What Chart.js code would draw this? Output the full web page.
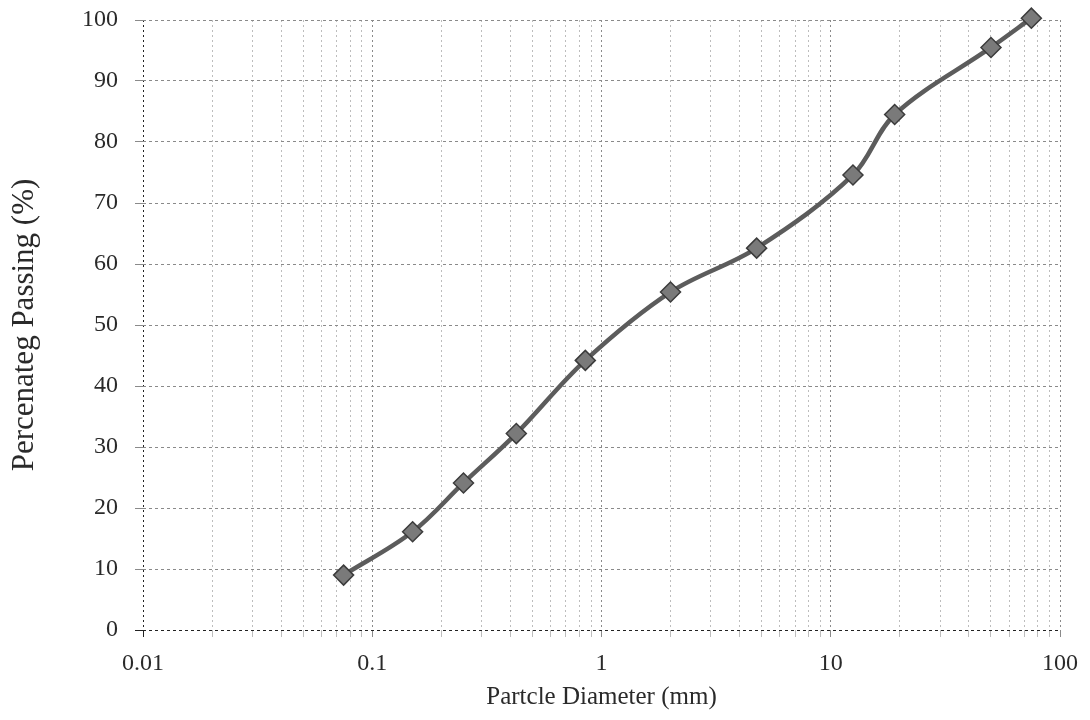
<!DOCTYPE html>
<html lang="en">
<head>
    <meta charset="UTF-8">
    <title>Particle size distribution</title>
    <script src="https://cdn.jsdelivr.net/npm/chart.js"></script>
    <style>
        * { margin: 0; padding: 0; box-sizing: border-box; }
        body { background: #fff; width: 1090px; height: 720px; overflow: hidden; }
        #wrap { width: 1090px; height: 720px; }
    </style>
</head>
<body>
    <div id="wrap"><canvas id="grading" width="1090" height="720"></canvas></div>

    <script>
        // sieve sizes (mm) and percentage passing
        const sieveSizes = [0.075, 0.15, 0.25, 0.425, 0.85, 2.0, 4.75, 12.5, 19, 50, 75];
        const percentPassing = [9, 16.1, 24.1, 32.2, 44.2, 55.4, 62.6, 74.6, 84.5, 95.5, 100.3];

        const xMajorTicks = [0.01, 0.1, 1, 10, 100];
        const yTicks = [0, 10, 20, 30, 40, 50, 60, 70, 80, 90, 100];

        const serif = "'Liberation Serif', 'DejaVu Serif', serif";

        // minor log grid: 2..9 in each decade
        const xAllTicks = [];
        xMajorTicks.forEach((d, i) => {
            xAllTicks.push({ value: d, major: true });
            if (i < xMajorTicks.length - 1) {
                for (let m = 2; m <= 9; m++) xAllTicks.push({ value: d * m, major: false });
            }
        });

        new Chart(document.getElementById('grading').getContext('2d'), {
            type: 'line',
            data: {
                datasets: [{
                    data: sieveSizes.map((s, i) => ({ x: s, y: percentPassing[i] })),
                    borderColor: '#5c5c5c',
                    borderWidth: 4.5,
                    tension: 0.35,
                    pointStyle: 'rectRot',
                    pointRadius: 10,
                    pointBackgroundColor: '#7a7a7a',
                    pointBorderColor: '#3c3c3c',
                    pointBorderWidth: 1.5,
                    clip: false
                }]
            },
            options: {
                responsive: false,
                animation: false,
                layout: { autoPadding: false, padding: { top: 20, right: 27, left: 0, bottom: 0 } },
                plugins: { legend: { display: false }, tooltip: { enabled: false } },
                scales: {
                    x: {
                        type: 'logarithmic',
                        min: 0.01,
                        max: 100,
                        afterBuildTicks: axis => { axis.ticks = xAllTicks.map(t => ({ value: t.value, major: t.major })); },
                        afterFit: axis => { axis.height = 90; },
                        ticks: {
                            autoSkip: false,
                            maxRotation: 0,
                            padding: 12,
                            color: '#2a2a2a',
                            font: { family: serif, size: 24 },
                            callback: function (value, idx) {
                                const t = xAllTicks[idx];
                                return t && t.major ? String(t.value) : '';
                            }
                        },
                        grid: {
                            color: ctx => {
                                const t = xAllTicks[ctx.index];
                                if (ctx.index === 0) return '#222';
                                return t && t.major ? '#8a8a8a' : '#bdbdbd';
                            },
                            lineWidth: 1,
                            tickLength: 7
                        },
                        border: { display: false, dash: [2, 3] },
                        title: {
                            display: true,
                            text: 'Partcle Diameter (mm)',
                            color: '#2a2a2a',
                            font: { family: serif, size: 25 },
                            padding: { top: 0, bottom: 8 }
                        }
                    },
                    y: {
                        min: 0,
                        max: 100,
                        afterBuildTicks: axis => { axis.ticks = yTicks.map(v => ({ value: v })); },
                        afterFit: axis => {
                            axis.width = 143;
                            axis.paddingTop = 10;
                            axis.paddingBottom = 10;
                        },
                        ticks: {
                            padding: 17,
                            color: '#2a2a2a',
                            font: { family: serif, size: 24 }
                        },
                        grid: {
                            color: ctx => ctx.tick && ctx.tick.value === 0 ? '#222' : '#8a8a8a',
                            lineWidth: 1,
                            tickLength: 8
                        },
                        border: { display: false, dash: [3, 3] },
                        title: {
                            display: true,
                            text: 'Percenateg Passing (%)',
                            color: '#2a2a2a',
                            font: { family: serif, size: 31 },
                            padding: { top: 6, bottom: 0 }
                        }
                    }
                }
            }
        });
    </script>
</body>
</html>
